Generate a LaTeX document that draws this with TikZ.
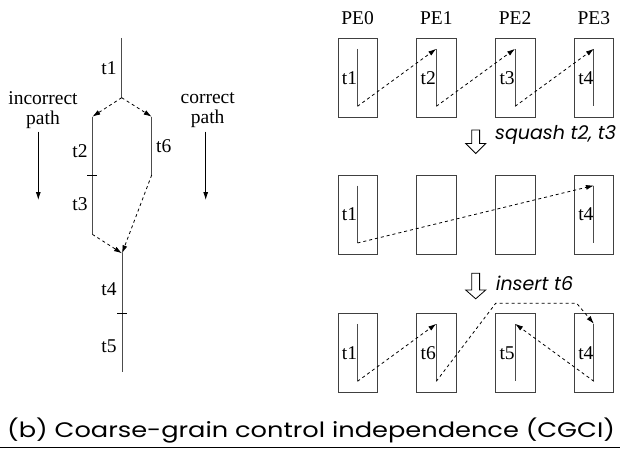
\documentclass[tikz,border=0pt]{standalone}
\usepackage{fontspec}
\setmainfont{Liberation Serif}
\newfontfamily\gothic{Poppins}
\usetikzlibrary{arrows.meta}
\begin{document}
\begin{tikzpicture}[x=1pt,y=-1pt,
  tline/.style={draw=black!70,line width=0.9pt},
  boxst/.style={draw=black!75,line width=0.9pt},
  dsh/.style={draw=black,line width=0.8pt,dash pattern=on 3pt off 3pt},
  arr/.style={-{Latex[length=8pt,width=5pt]}},
  lbl/.style={inner sep=0pt,font=\fontsize{19.5}{20}\selectfont},
  ital/.style={inner sep=0pt,anchor=west,font=\gothic\itshape\fontsize{19}{20}\selectfont},
  hollow/.style={draw=black,line width=0.8pt,fill=white}]
\useasboundingbox (0,0) rectangle (620,449);
% ---------- left graph ----------
\coordinate (a0) at (121.7,38);
\coordinate (a1) at (121.7,97.7);
\coordinate (l0) at (92.3,116.7);
\coordinate (lm) at (92.3,175);
\coordinate (l1) at (92.3,234.3);
\coordinate (r0) at (151.7,116.7);
\coordinate (r1) at (151.7,175);
\coordinate (b0) at (122,253.3);
\coordinate (bm) at (122,313.3);
\coordinate (b1) at (122,371.7);
\draw[tline] (a0) -- (a1);
\draw[tline] (l0) -- (l1);
\draw[tline] (r0) -- (r1);
\draw[tline] (b0) -- (b1);
\draw[line width=0.8pt] ([xshift=-5pt]lm) -- ([xshift=5pt]lm);
\draw[line width=0.8pt] ([xshift=-5pt]bm) -- ([xshift=5pt]bm);
\draw[dsh,arr] (a1) -- (l0);
\draw[dsh,arr] (a1) -- (r0);
\draw[dsh,arr] (r1) -- (b0);
\draw[dsh,arr] (l1) -- (b0);
\node[lbl] (t1) at (109,68) {t1};
\node[lbl] (t2) at (80,150.7) {t2};
\node[lbl] (t3) at (80,204) {t3};
\node[lbl] (t6) at (163.7,145.7) {t6};
\node[lbl] (t4) at (109,289.3) {t4};
\node[lbl] (t5) at (109,346.7) {t5};
\node[lbl,align=center] (inc) at (43,110) {incorrect\\path};
\node[lbl,align=center] (cor) at (207.7,110) {correct\\path};
\coordinate (ia0) at (38.3,131.7);
\coordinate (ia1) at (38.3,200);
\coordinate (ca0) at (205.7,131.7);
\coordinate (ca1) at (205.7,200);
\draw[line width=0.8pt,arr] (ia0) -- (ia1);
\draw[line width=0.8pt,arr] (ca0) -- (ca1);
% ---------- right: PEs ----------
\foreach \c in {0,1,2,3}{
  \node[lbl] (pe\c) at ({357.5+78.8*\c},18.3) {PE\c};
}
\foreach \r/\top in {1/38.3,2/175,3/313.3}{
  \foreach \c in {0,1,2,3}{
    \pgfmathsetmacro{\xl}{337.5+78.8*\c}
    \node[boxst,minimum width=39.5pt,minimum height=79pt,inner sep=0pt,anchor=north west] (bx\r\c) at (\xl,\top) {};
    \coordinate (ln\r\c t) at ({\xl+20},{\top+10.5});
    \coordinate (ln\r\c b) at ({\xl+20},{\top+68});
  }
}
% lines inside boxes
\foreach \r/\c in {1/0,1/1,1/2,1/3,2/0,2/3,3/0,3/1,3/2,3/3}{
  \draw[tline] (ln\r\c t) -- (ln\r\c b);
}
% labels in boxes
\foreach \r/\c/\t in {1/0/t1,1/1/t2,1/2/t3,1/3/t4,2/0/t1,2/3/t4,3/0/t1,3/1/t6,3/2/t5,3/3/t4}{
  \node[lbl] (lb\r\c) at ([xshift=-8pt,yshift=-29pt]ln\r\c t) {\t};
}
% dashed arrows
\draw[dsh,arr] (ln10b) -- (ln11t);
\draw[dsh,arr] (ln11b) -- (ln12t);
\draw[dsh,arr] (ln12b) -- (ln13t);
\draw[dsh,arr] (ln20b) -- (ln23t);
\draw[dsh,arr] (ln30b) -- (ln31t);
\coordinate (k1) at (495.7,303.3);
\coordinate (k2) at (576.7,303.3);
\draw[dsh,arr] (ln31b) -- (k1) -- (k2) -- (ln33t);
\draw[dsh,arr] (ln33b) -- (ln32t);
% hollow arrows
\foreach \ytop/\yh/\ytip in {130/143.5/153.5, 273.3/290/298.8}{
  \draw[hollow] (471.8,\ytop) -- (479.6,\ytop) -- (479.6,\yh) -- (485.7,\yh) -- (475.7,\ytip) -- (465.7,\yh) -- (471.8,\yh) -- cycle;
}
\node[ital] (sq) at (495,135) {squash t2, t3};
\node[ital] (ins) at (495.7,283.3) {insert t6};
% caption
\node[inner sep=0pt,anchor=base west,font=\gothic\fontsize{21}{24}\selectfont] (cap) at (7,437.7) {\scalebox{1.222}[1]{(b) Coarse-grain control independence (CGCI)}};
\coordinate (rl0) at (0,447.7);
\coordinate (rl1) at (620,447.7);
\draw[line width=1.2pt] (rl0) -- (rl1);
\end{tikzpicture}
\end{document}
